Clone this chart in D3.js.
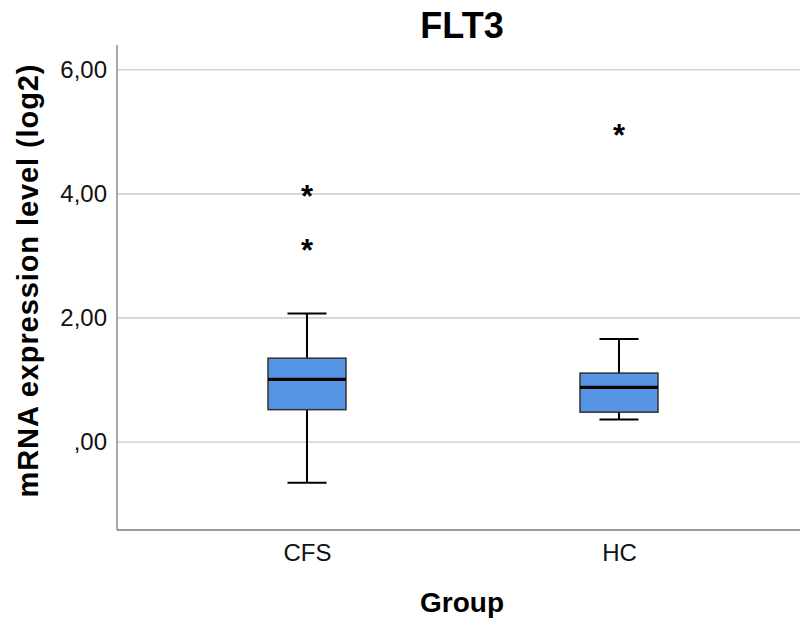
<!DOCTYPE html>
<html>
<head>
<meta charset="utf-8">
<script src="https://cdn.jsdelivr.net/npm/d3@7/dist/d3.min.js"></script>
<style>
  html, body { margin: 0; padding: 0; background: #fff; }
  svg { display: block; font-family: "Liberation Sans", Arial, sans-serif; }
</style>
</head>
<body>
<svg id="chart" width="800" height="618"></svg>
<script>
// FLT3 expression by group: box-plot summaries (log2 scale)
const groups      = ["CFS", "HC"];
const whiskerLow  = [-0.66, 0.36];
const q1          = [0.52, 0.48];
const medians     = [1.01, 0.88];
const q3          = [1.35, 1.11];
const whiskerHigh = [2.07, 1.66];
const outliers    = [[3.13, 4.00], [4.98]];
const yTicks      = [0, 2, 4, 6];

const svg = d3.select("#chart");

const plotLeft = 117, plotRight = 809, plotTop = 45, plotBottom = 530;

const x = d3.scalePoint().domain(groups).range([plotLeft, plotRight]).padding(0.609);
const y = d3.scaleLinear().domain([-1.42, 6.4]).range([plotBottom, plotTop]);

const fmt = v => d3.format(".2f")(v).replace(".", ",").replace(/^0,/, ",");

// horizontal gridlines
svg.append("g")
  .selectAll("line")
  .data(yTicks)
  .join("line")
  .attr("x1", plotLeft).attr("x2", 800)
  .attr("y1", d => y(d)).attr("y2", d => y(d))
  .attr("stroke", "#d2d2d2").attr("stroke-width", 1.6);

// y axis
const yAxis = d3.axisLeft(y).tickValues(yTicks).tickFormat(fmt).tickSize(0).tickPadding(10);
const gy = svg.append("g").attr("transform", `translate(${plotLeft},0)`).call(yAxis);
gy.select(".domain").remove();
gy.selectAll("text").attr("font-size", 24).attr("fill", "#111");

// axis frame lines
svg.append("line").attr("x1", plotLeft).attr("x2", plotLeft).attr("y1", plotTop).attr("y2", plotBottom)
  .attr("stroke", "#7a7a7a").attr("stroke-width", 1.3);
svg.append("line").attr("x1", plotLeft).attr("x2", 800).attr("y1", plotBottom).attr("y2", plotBottom)
  .attr("stroke", "#7a7a7a").attr("stroke-width", 1.3);

// x axis labels
const xAxis = d3.axisBottom(x).tickSize(0).tickPadding(14);
const gx = svg.append("g").attr("transform", `translate(0,${plotBottom})`).call(xAxis);
gx.select(".domain").remove();
gx.selectAll("text").attr("font-size", 24).attr("fill", "#111");

// boxes
const boxW = 78, capW = 39;
const data = groups.map((g, i) => ({
  g, lo: whiskerLow[i], q1: q1[i], med: medians[i], q3: q3[i], hi: whiskerHigh[i], out: outliers[i]
}));

const box = svg.append("g").selectAll("g").data(data).join("g")
  .attr("transform", d => `translate(${x(d.g)},0)`);

box.append("line").attr("x1", 0).attr("x2", 0)
  .attr("y1", d => y(d.hi)).attr("y2", d => y(d.q3))
  .attr("stroke", "#000").attr("stroke-width", 2);
box.append("line").attr("x1", 0).attr("x2", 0)
  .attr("y1", d => y(d.q1)).attr("y2", d => y(d.lo))
  .attr("stroke", "#000").attr("stroke-width", 2);
box.append("line").attr("x1", -capW / 2).attr("x2", capW / 2)
  .attr("y1", d => y(d.hi)).attr("y2", d => y(d.hi))
  .attr("stroke", "#000").attr("stroke-width", 2);
box.append("line").attr("x1", -capW / 2).attr("x2", capW / 2)
  .attr("y1", d => y(d.lo)).attr("y2", d => y(d.lo))
  .attr("stroke", "#000").attr("stroke-width", 2);
box.append("rect")
  .attr("x", -boxW / 2).attr("width", boxW)
  .attr("y", d => y(d.q3)).attr("height", d => y(d.q1) - y(d.q3))
  .attr("fill", "#5595e4").attr("stroke", "#333").attr("stroke-width", 1.5);
box.append("line").attr("x1", -boxW / 2).attr("x2", boxW / 2)
  .attr("y1", d => y(d.med)).attr("y2", d => y(d.med))
  .attr("stroke", "#000").attr("stroke-width", 3.2);

// extreme values, star centred on the value
box.selectAll("text.out").data(d => d.out).join("text")
  .attr("class", "out")
  .attr("x", 0).attr("y", v => y(v))
  .attr("dy", "0.42em")
  .attr("text-anchor", "middle")
  .attr("font-size", 31).attr("font-weight", "bold")
  .text("*");

// title and axis titles
svg.append("text").attr("x", 462).attr("y", 38).attr("text-anchor", "middle")
  .attr("font-size", 36).attr("font-weight", "bold").text("FLT3");
svg.append("text").attr("x", 462).attr("y", 612).attr("text-anchor", "middle")
  .attr("font-size", 28).attr("font-weight", "bold").text("Group");
svg.append("text")
  .attr("transform", "translate(38,281) rotate(-90)")
  .attr("text-anchor", "middle")
  .attr("font-size", 29).attr("font-weight", "bold")
  .attr("textLength", 433).attr("lengthAdjust", "spacing")
  .text("mRNA expression level (log2)");
</script>
</body>
</html>
